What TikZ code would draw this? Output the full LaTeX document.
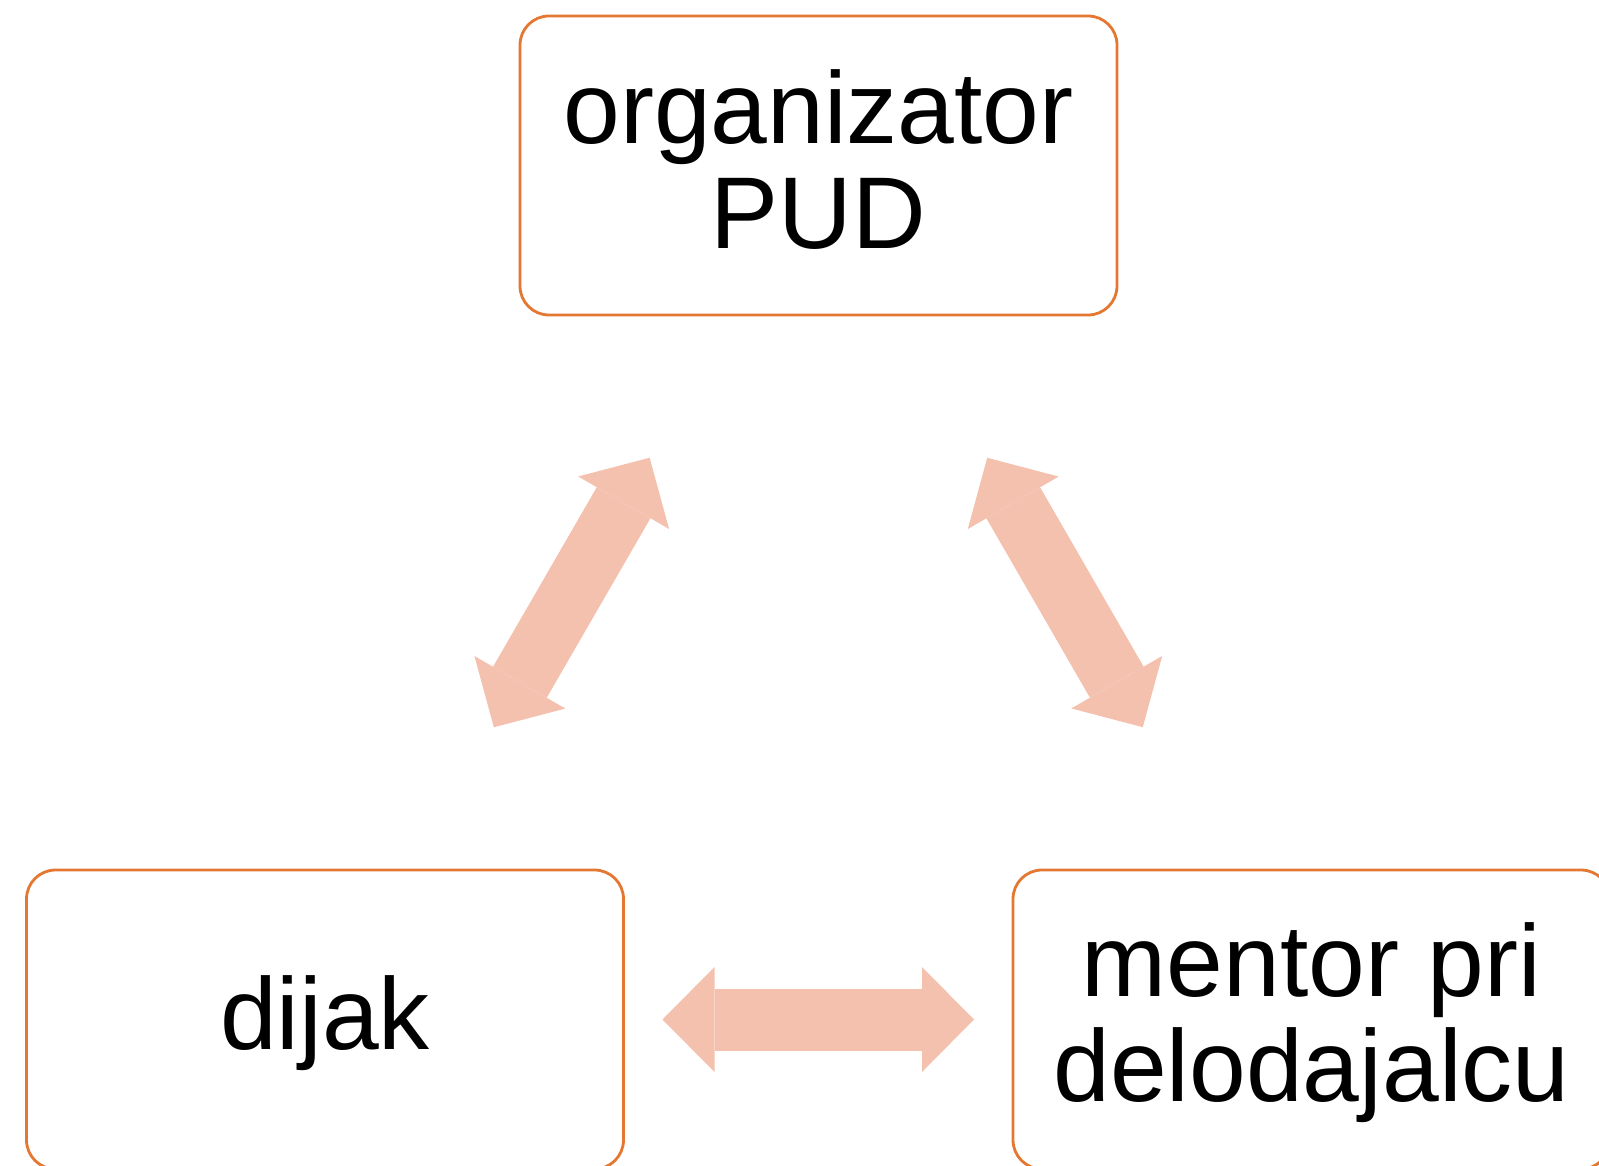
\documentclass[tikz,border=0pt]{standalone}
\usepackage{fontspec}
\setmainfont{Liberation Sans}
\usetikzlibrary{arrows.meta}
\definecolor{boxline}{RGB}{228,120,50}
\definecolor{linkfill}{RGB}{244,193,174}
\newcommand{\bigtip}{Triangle[length=52pt,width=105pt,line width=0pt]}
\newcommand{\boxfont}{\fontsize{102}{105}\selectfont
  \setbox\strutbox\hbox{\vrule height 81pt depth 19pt width 0pt}}
\tikzset{
  box/.style={draw=boxline, line width=2.8pt, rounded corners=29pt,
    minimum width=597pt, minimum height=299pt, inner sep=0pt,
    align=center, font=\boxfont},
  link/.style={draw=linkfill, line width=62pt, {\bigtip}-{\bigtip},
    shorten <=337.5pt, shorten >=337.5pt}
}

\begin{document}
\begin{tikzpicture}[x=1pt,y=-1pt]
  \useasboundingbox (0,0) rectangle (1599,1166);
  \node[box] (org) at (818.5,165.5) {\strut organizator\\\strut PUD};
  \node[box] (dij) at (325,1019.5) {\strut dijak};
  \node[box] (men) at (1311.5,1019.5) {\strut mentor pri\\\strut delodajalcu};
  \draw[link] (org.center) -- (dij.center);
  \draw[link] (org.center) -- (men.center);
  \draw[link] (dij.center) -- (men.center);
\end{tikzpicture}
\end{document}
